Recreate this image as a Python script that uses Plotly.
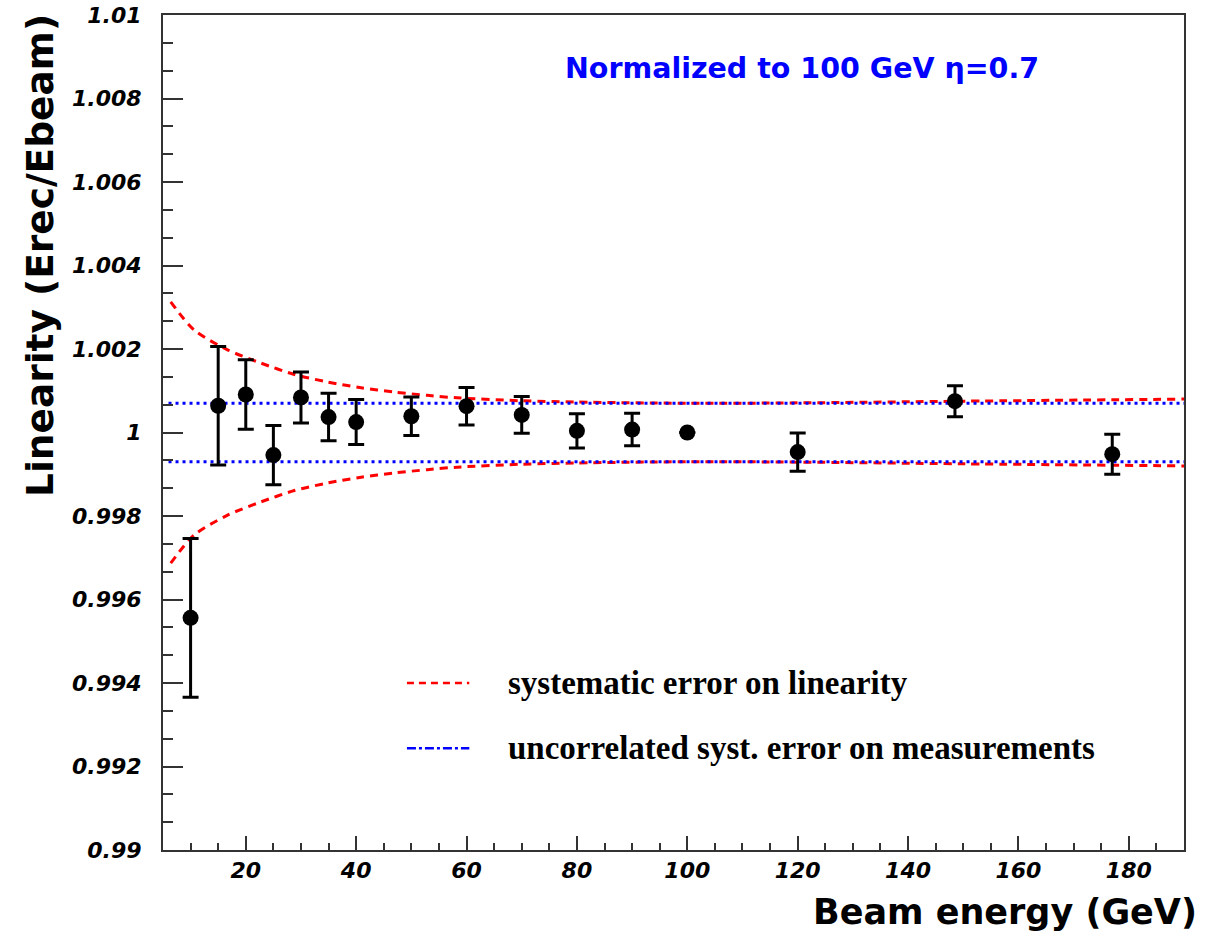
import plotly.graph_objects as go

# Measured linearity points (beam energy in GeV)
energy = [10, 15, 20, 25, 30, 35, 40, 50, 60, 70, 80, 90, 100, 120, 148.5, 177]
linearity = [0.99556, 1.00064, 1.00091, 0.99946, 1.00084, 1.00037, 1.00025, 1.00039,
             1.00063, 1.00042, 1.00004, 1.00007, 1.00000, 0.99953, 1.00075, 0.99948]
lin_error = [0.0019, 0.00142, 0.00083, 0.00071, 0.00061, 0.00057, 0.00054, 0.00046,
             0.00045, 0.00044, 0.00041, 0.00039, None, 0.00046, 0.00037, 0.00048]

# Systematic error band on linearity (half-width around 1)
sys_energy = [6.4, 10.6, 16.7, 22.8, 28.8, 34.8, 40.9, 46.8, 52.9, 58.3, 70, 80,
              100, 120, 150, 190]
sys_halfwidth = [0.00313, 0.00246, 0.00198, 0.00166, 0.00139, 0.00121, 0.00107,
                 0.00097, 0.00089, 0.00083, 0.00076, 0.00073, 0.0007, 0.00071,
                 0.00075, 0.0008]

# Uncorrelated systematic error on the measurements
uncorr_energy = [6, 190]
uncorr_upper = [1.0007, 1.0007]
uncorr_lower = [0.9993, 0.9993]

# Axis ticks
y_tickvals = [0.99, 0.992, 0.994, 0.996, 0.998, 1.0, 1.002, 1.004, 1.006, 1.008, 1.01]
y_ticktext = ["0.99", "0.992", "0.994", "0.996", "0.998", "1", "1.002", "1.004",
              "1.006", "1.008", "1.01"]
y_minor = [0.99 + i * 0.002 / 3 for i in range(31)]
x_tickvals = [20, 40, 60, 80, 100, 120, 140, 160, 180]
x_ticktext = ["20", "40", "60", "80", "100", "120", "140", "160", "180"]

legend_labels = ["systematic error on linearity",
                 "uncorrelated syst. error on measurements"]

RED = "#ff0000"
BLUE = "#0000ff"

fig = go.Figure()

sys_upper = [1 + h for h in sys_halfwidth]
sys_lower = [1 - h for h in sys_halfwidth]
for ys in (sys_upper, sys_lower):
    fig.add_trace(go.Scatter(
        x=sys_energy, y=ys, mode="lines",
        line=dict(color=RED, width=3, dash="8px,6px", shape="spline", smoothing=0.8),
        showlegend=False, hoverinfo="skip"))

for ys in (uncorr_upper, uncorr_lower):
    fig.add_trace(go.Scatter(
        x=uncorr_energy, y=ys, mode="lines",
        line=dict(color=BLUE, width=3, dash="3px,4px"),
        showlegend=False, hoverinfo="skip"))

fig.add_trace(go.Scatter(
    x=energy, y=linearity, mode="markers",
    marker=dict(color="black", size=16),
    error_y=dict(type="data", array=lin_error, visible=True,
                 color="black", thickness=3, width=8),
    showlegend=False))

# Hand-drawn legend
legend_y = [0.9940, 0.99244]
legend_styles = [dict(color=RED, width=2.5, dash="7px,5px"),
                 dict(color=BLUE, width=2.5, dash="dashdot")]
for yy, lab, st in zip(legend_y, legend_labels, legend_styles):
    fig.add_shape(type="line", xref="x", yref="y", x0=49.2, x1=60.5, y0=yy, y1=yy,
                  line=st)
    fig.add_annotation(x=67.2, y=yy, xref="x", yref="y", text=lab, showarrow=False,
                       xanchor="left", yanchor="middle",
                       font=dict(family="Liberation Serif", size=33, color="black",
                                 weight="bold"))

fig.add_annotation(x=120.8, y=1.00873, xref="x", yref="y",
                   text="Normalized to 100 GeV η=0.7", showarrow=False,
                   xanchor="center", yanchor="middle",
                   font=dict(family="DejaVu Sans", size=28.5, color=BLUE, weight="bold"))

fig.add_annotation(x=-0.1205, y=0.7126, xref="paper", yref="paper",
                   text="Linearity (Erec/Ebeam)", showarrow=False, textangle=-90,
                   xanchor="center", yanchor="middle",
                   font=dict(family="DejaVu Sans", size=37.5, color="black", weight="bold"))

fig.add_annotation(x=1.0147, y=-0.0743, xref="paper", yref="paper",
                   text="Beam energy (GeV)", showarrow=False,
                   xanchor="right", yanchor="middle",
                   font=dict(family="DejaVu Sans", size=35, color="black", weight="bold"))

tick_font = dict(family="DejaVu Sans", size=22, color="black", weight="bold", style="italic")

fig.update_xaxes(
    range=[5, 190], showgrid=False, zeroline=False, automargin=False,
    showline=True, linecolor="#333333", linewidth=2, mirror=True,
    ticks="inside", ticklen=14, tickwidth=2, tickcolor="#333333",
    tickvals=x_tickvals, ticktext=x_ticktext, tickfont=tick_font,
    ticklabelstandoff=0,
    minor=dict(dtick=5, tick0=0, ticks="inside", ticklen=7, tickwidth=1.5,
               tickcolor="#333333", showgrid=False),
)
fig.update_yaxes(
    range=[0.99, 1.01], showgrid=False, zeroline=False, automargin=False,
    showline=True, linecolor="#333333", linewidth=2, mirror=True,
    ticks="inside", ticklen=20, tickwidth=2, tickcolor="#333333",
    tickvals=y_tickvals, ticktext=y_ticktext, tickfont=tick_font,
    ticklabelstandoff=15,
    minor=dict(tickmode="array", tickvals=y_minor, ticks="inside", ticklen=10,
               tickwidth=1.5, tickcolor="#333333", showgrid=False),
)

fig.update_layout(
    width=1211, height=942,
    margin=dict(l=163, r=27, t=15, b=92),
    paper_bgcolor="white", plot_bgcolor="white",
    showlegend=False,
)

fig.write_html("out.html")
